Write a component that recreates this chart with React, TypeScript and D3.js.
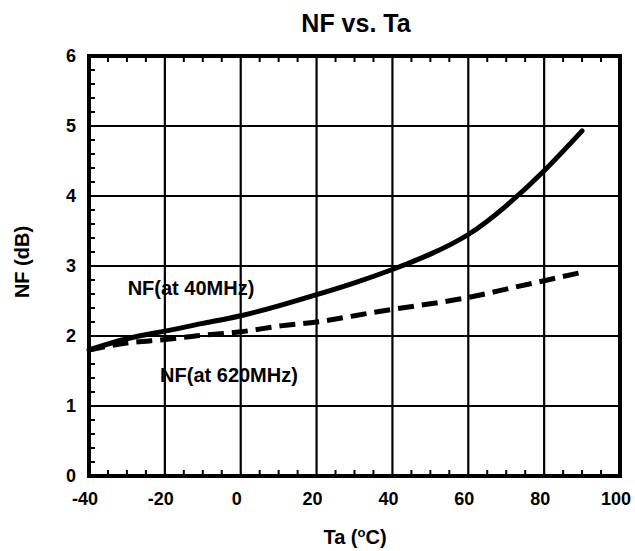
import React from "react";
import * as d3 from "d3";

const temps = [-40, -30, -20, -10, 0, 10, 20, 30, 40, 50, 60, 70, 80, 90];
const nf40MHz = [1.8, 1.96, 2.07, 2.18, 2.29, 2.43, 2.59, 2.76, 2.95, 3.17, 3.45, 3.86, 4.36, 4.93];
const nf620MHz = [1.8, 1.9, 1.95, 2.01, 2.06, 2.14, 2.2, 2.29, 2.38, 2.46, 2.55, 2.67, 2.79, 2.91];
const xTicks = [-40, -20, 0, 20, 40, 60, 80, 100];
const yTicks = [0, 1, 2, 3, 4, 5, 6];

export default function App() {
  const W = 635, H = 551;
  const left = 89, right = 620, top = 56, bottom = 476;
  const x = d3.scaleLinear().domain([-40, 100]).range([left, right]);
  const y = d3.scaleLinear().domain([0, 6]).range([bottom, top]);
  const line = d3.line<number>().x((_, i) => x(temps[i])).y((d) => y(d)).curve(d3.curveNatural);
  const font = "Arial, 'Liberation Sans', sans-serif";
  const xMinor = d3.range(-40, 100.01, 5).filter((v) => v % 20 !== 0);
  const yMinor = d3.range(0, 6.001, 0.2).filter((v) => Math.abs(v - Math.round(v)) > 0.01);

  return (
    <svg width={W} height={H} style={{ position: "absolute", left: 0, top: 0 }} fontFamily={font}>
      <rect width={W} height={H} fill="#fff" />
      {xTicks.slice(1, -1).map((t) => (
        <line key={"gx" + t} x1={x(t)} x2={x(t)} y1={top} y2={bottom} stroke="#000" strokeWidth={2.2} />
      ))}
      {yTicks.slice(1, -1).map((t) => (
        <line key={"gy" + t} x1={left} x2={right} y1={y(t)} y2={y(t)} stroke="#000" strokeWidth={2.2} />
      ))}
      {xMinor.map((t) => (
        <g key={"mx" + t}>
          <line x1={x(t)} x2={x(t)} y1={bottom} y2={bottom - 6} stroke="#000" strokeWidth={2} />
          <line x1={x(t)} x2={x(t)} y1={top} y2={top + 6} stroke="#000" strokeWidth={2} />
        </g>
      ))}
      {yMinor.map((t) => (
        <line key={"my" + t} x1={left} x2={left + 6} y1={y(t)} y2={y(t)} stroke="#000" strokeWidth={2} />
      ))}
      <rect x={left} y={top} width={right - left} height={bottom - top} fill="none" stroke="#000" strokeWidth={4} />
      <path d={line(nf40MHz) || ""} fill="none" stroke="#000" strokeWidth={5} strokeLinecap="round" />
      <path d={line(nf620MHz) || ""} fill="none" stroke="#000" strokeWidth={5} strokeDasharray="16,8" />
      {xTicks.map((t) => (
        <text key={"xl" + t} x={x(t) - 4} y={505} textAnchor="middle" fontSize={18} fontWeight="bold">{t}</text>
      ))}
      {yTicks.map((t) => (
        <text key={"yl" + t} x={76} y={y(t) + 6} textAnchor="end" fontSize={18} fontWeight="bold">{t}</text>
      ))}
      <text x={356} y={32} textAnchor="middle" fontSize={25} fontWeight="bold">NF vs. Ta</text>
      <text x={355} y={544} textAnchor="middle" fontSize={20} fontWeight="bold">
        Ta (<tspan dy={-7} fontSize={13}>o</tspan><tspan dy={7}>C)</tspan>
      </text>
      <text transform={`translate(29,262) rotate(-90)`} textAnchor="middle" fontSize={20} fontWeight="bold">NF (dB)</text>
      <text x={191} y={295} textAnchor="middle" fontSize={20} fontWeight="bold">NF(at 40MHz)</text>
      <text x={229} y={382} textAnchor="middle" fontSize={20} fontWeight="bold">NF(at 620MHz)</text>
    </svg>
  );
}
